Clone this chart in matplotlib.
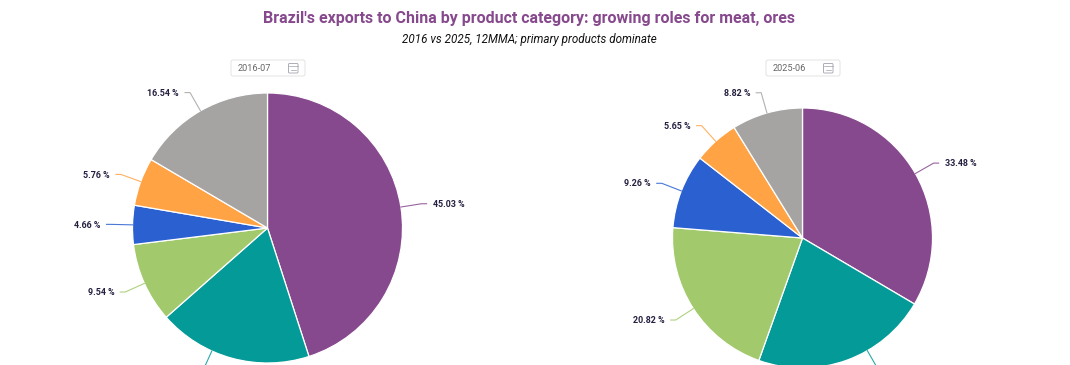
import numpy as np
import matplotlib
matplotlib.use('Agg')
import matplotlib.pyplot as plt
from matplotlib.patches import FancyBboxPatch

plt.rcParams['font.family'] = ['Roboto', 'DejaVu Sans']

# Data
title = "Brazil's exports to China by product category: growing roles for meat, ores"
subtitle = '2016 vs 2025, 12MMA; primary products dominate'
colors = ['#87498D', '#049A98', '#A2C96C', '#2A60D0', '#FFA345', '#A6A4A2']
dates = ['2016-07', '2025-06']
values_2016 = [45.03, 18.47, 9.54, 4.66, 5.76, 16.54]
values_2025 = [33.48, 21.97, 20.82, 9.26, 5.65, 8.82]

W, H = 1070, 365
fig = plt.figure(figsize=(W / 100, H / 100), dpi=100, facecolor='white')

# overlay in pixel coordinates for title, date pickers
ui = fig.add_axes([0, 0, 1, 1], zorder=3)
ui.set_xlim(0, W)
ui.set_ylim(H, 0)
ui.axis('off')

ui.text(529, 19, title, ha='center', va='center', fontsize=11.5,
        fontweight='bold', color='#87498D')
ui.text(529, 40, subtitle, ha='center', va='center', fontsize=8.4,
        style='italic', color='#111111')


def date_box(x, y, label):
    ui.add_patch(FancyBboxPatch((x, y), 74, 16, boxstyle='round,pad=0,rounding_size=2',
                                fc='white', ec='#E6E6E6', lw=0.8))
    ui.text(x + 7, y + 8.3, label, ha='left', va='center', fontsize=6.6, color='#666666')
    # calendar icon
    ui.add_patch(FancyBboxPatch((x + 57.5, y + 3.5), 9.5, 9.5, boxstyle='round,pad=0,rounding_size=1',
                                fc='none', ec='#A0A0AC', lw=0.6))
    ui.plot([x + 57.5, x + 67], [y + 6.2, y + 6.2], color='#A0A0AC', lw=0.5)
    ui.plot([x + 59.5, x + 65], [y + 10, y + 10], color='#A0A0AC', lw=0.5)


def draw_pie(cx, cy, r, values, teal_shift):
    ax = fig.add_axes([(cx - r) / W, (H - cy - r) / H, 2 * r / W, 2 * r / H], zorder=1)
    wedges, _ = ax.pie(values, colors=colors, startangle=90, counterclock=False, radius=1,
                       wedgeprops=dict(edgecolor='white', linewidth=0.9))
    ax.set_xlim(-1, 1)
    ax.set_ylim(-1, 1)
    ax.set_aspect('equal')
    # leader lines and labels
    for i, (w, v, c) in enumerate(zip(wedges, values, colors)):
        mid = (w.theta1 + w.theta2) / 2
        if i == 1:
            mid += teal_shift
        a = np.deg2rad(mid)
        x0 = cx + r * np.cos(a)
        y0 = cy - r * np.sin(a)
        x1 = cx + (r + 21) * np.cos(a)
        y1 = cy - (r + 21) * np.sin(a)
        side = 1 if np.cos(a) > 0 else -1
        x2 = x1 + side * 5
        ui.plot([x0, x1, x2], [y0, y1, y1], color=c, lw=0.8, alpha=0.85, solid_joinstyle='round')
        if y1 < H - 5:
            ui.text(x2 + side * 6, y1 + 0.7, f'{v:.2f} %', ha='left' if side > 0 else 'right',
                    va='center', fontsize=6.4, fontweight='bold', color='#231F3F')


draw_pie(267.5, 228, 135, values_2016, -9)
draw_pie(802.5, 238, 130, values_2025, 10)
date_box(231, 60, dates[0])
date_box(766, 60, dates[1])

fig.savefig('out.png', dpi=100)
